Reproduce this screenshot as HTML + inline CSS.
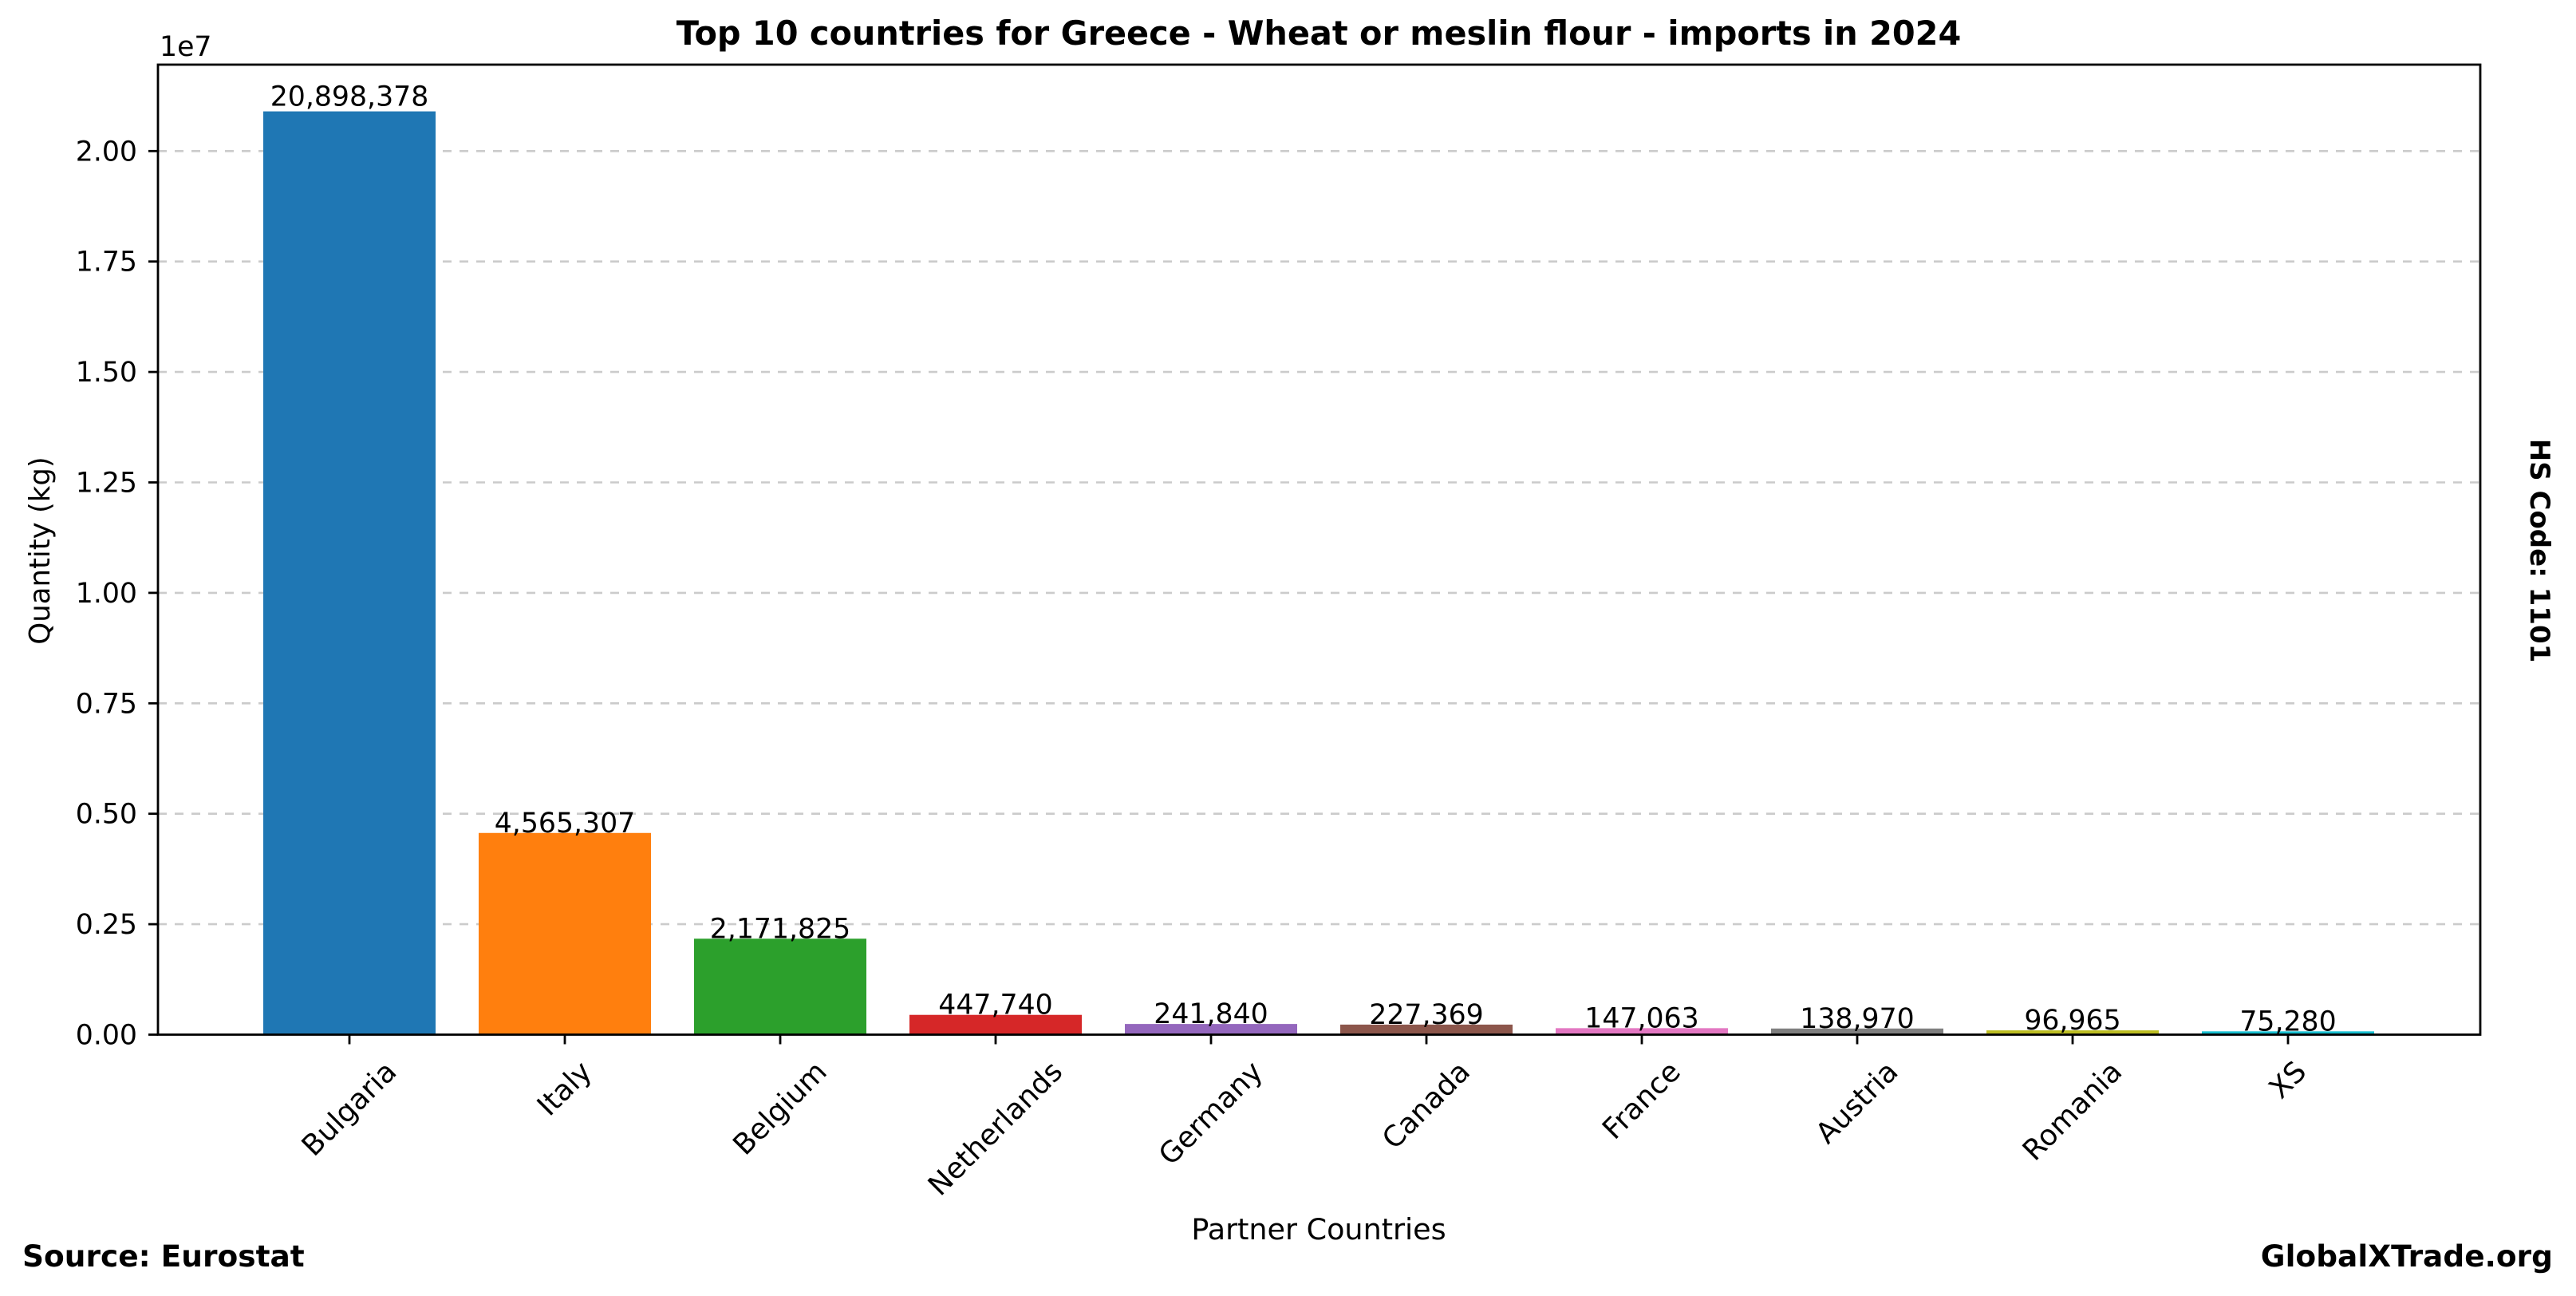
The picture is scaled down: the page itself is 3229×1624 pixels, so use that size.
<!DOCTYPE html>
<html><head><meta charset="utf-8"><style>
html,body{margin:0;padding:0;background:#fff}
svg{display:block}
text{font-family:"DejaVu Sans","Liberation Sans",sans-serif;fill:#000}
</style></head><body>
<svg id="s" width="3229" height="1624" viewBox="0 0 3229 1624" xmlns="http://www.w3.org/2000/svg">
<rect width="3229" height="1624" fill="#fff"/>
<g stroke="#cbcbcb" stroke-width="2.6" stroke-dasharray="11,10">
<line x1="198" x2="3109" y1="1158.1" y2="1158.1"/>
<line x1="198" x2="3109" y1="1019.7" y2="1019.7"/>
<line x1="198" x2="3109" y1="881.3" y2="881.3"/>
<line x1="198" x2="3109" y1="742.9" y2="742.9"/>
<line x1="198" x2="3109" y1="604.5" y2="604.5"/>
<line x1="198" x2="3109" y1="466.1" y2="466.1"/>
<line x1="198" x2="3109" y1="327.7" y2="327.7"/>
<line x1="198" x2="3109" y1="189.3" y2="189.3"/>
</g>
<g id="bars"></g>
<rect x="198" y="81" width="2911" height="1215.5" fill="none" stroke="#000" stroke-width="2.8"/>
<g stroke="#000" stroke-width="2.8" id="yt"></g>
<g font-size="34.7" text-anchor="end" id="yl"></g>
<text x="200" y="70" font-size="34.7">1e7</text>
<g id="xl" font-size="36"></g>
<text x="1653" y="56" font-size="41.4" font-weight="bold" text-anchor="middle">Top 10 countries for Greece - Wheat or meslin flour - imports in 2024</text>
<text transform="translate(62,690) rotate(-90)" font-size="35.5" text-anchor="middle">Quantity (kg)</text>
<text x="1653" y="1553" font-size="36.5" text-anchor="middle">Partner Countries</text>
<text transform="translate(3172,690) rotate(90)" font-size="34" font-weight="bold" text-anchor="middle">HS Code: 1101</text>
<text x="28" y="1587" font-size="37.5" font-weight="bold">Source: Eurostat</text>
<text x="3200" y="1587" font-size="37.5" font-weight="bold" text-anchor="end">GlobalXTrade.org</text>
</svg>
<script>
var NS="http://www.w3.org/2000/svg";
var data=[["Bulgaria",20898378,"#1f77b4"],["Italy",4565307,"#ff7f0e"],["Belgium",2171825,"#2ca02c"],["Netherlands",447740,"#d62728"],["Germany",241840,"#9467bd"],["Canada",227369,"#8c564b"],["France",147063,"#e377c2"],["Austria",138970,"#7f7f7f"],["Romania",96965,"#bcbd22"],["XS",75280,"#17becf"]];
var y0=1296.5,k=553.6e-7;
function el(t,a,p){var e=document.createElementNS(NS,t);for(var i in a)e.setAttribute(i,a[i]);p.appendChild(e);return e;}
var bars=document.getElementById("bars"),xl=document.getElementById("xl"),yt=document.getElementById("yt"),yl=document.getElementById("yl");
data.forEach(function(d,i){
 var cx=438+i*270,h=d[1]*k;
 el("rect",{x:cx-108,y:y0-h,width:216,height:h,fill:d[2]},bars);
 var t=el("text",{x:cx,y:y0-h-(i==0?7:1),"text-anchor":"middle","font-size":"34.7"},bars);
 t.textContent=d[1].toLocaleString("en-US");
 el("line",{x1:cx,x2:cx,y1:y0,y2:y0+12},yt);
 var l=el("text",{"text-anchor":"middle","dominant-baseline":"central"},xl);
 l.textContent=d[0];
 var w=l.getComputedTextLength(),hh=36*1.17;
 var cy=1322+(w+hh)*0.7071/2;
 l.setAttribute("transform","translate("+cx+","+cy+") rotate(-45)");
});
["0.00","0.25","0.50","0.75","1.00","1.25","1.50","1.75","2.00"].forEach(function(s,i){
 var y=y0-i*138.4;
 el("line",{x1:186,x2:198,y1:y,y2:y},yt);
 var t=el("text",{x:172,y:y+12},yl);t.textContent=s;
});
</script>
</body></html>
